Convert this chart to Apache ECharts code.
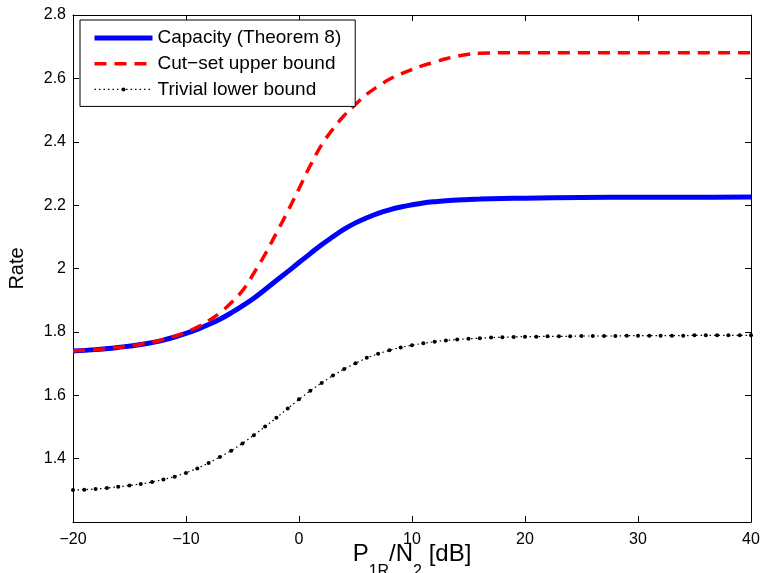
<!DOCTYPE html>
<html>
<head>
<meta charset="utf-8">
<script src="https://cdn.jsdelivr.net/npm/echarts@6/dist/echarts.min.js"></script>
<style>
html,body{margin:0;padding:0;background:#fff;}
#c{width:761px;height:573px;}
</style>
</head>
<body>
<div id="c"></div>
<script>
// x positions (dB) for capacity & cut-set curves
const xSmooth = [-20,-18,-16,-14,-12,-10,-9,-8,-7,-6,-5,-4,-3,-2,-1,0,1,2,3,4,5,6,7,8,9,10,11,12,13,14,15,16,18,20,25,30,35,40];
const capacity = [1.740,1.744,1.751,1.760,1.774,1.795,1.808,1.823,1.840,1.860,1.882,1.906,1.934,1.962,1.990,2.019,2.047,2.075,2.100,2.124,2.144,2.160,2.174,2.185,2.194,2.201,2.207,2.211,2.214,2.216,2.218,2.219,2.221,2.222,2.224,2.225,2.225,2.226];
const cutset = [1.740,1.744,1.751,1.761,1.776,1.799,1.815,1.835,1.860,1.892,1.930,1.985,2.045,2.112,2.180,2.252,2.325,2.390,2.440,2.483,2.518,2.550,2.575,2.597,2.614,2.628,2.641,2.651,2.662,2.670,2.676,2.679,2.681,2.681,2.681,2.681,2.681,2.681];
// trivial lower bound sampled every 1 dB from -20 to 40
const xTrivial = [-20,-19,-18,-17,-16,-15,-14,-13,-12,-11,-10,-9,-8,-7,-6,-5,-4,-3,-2,-1,0,1,2,3,4,5,6,7,8,9,10,11,12,13,14,15,16,17,18,19,20,21,22,23,24,25,26,27,28,29,30,31,32,33,34,35,36,37,38,39,40];
const trivial = [1.301,1.302,1.304,1.307,1.311,1.315,1.320,1.326,1.334,1.343,1.355,1.369,1.386,1.405,1.425,1.448,1.474,1.501,1.529,1.558,1.587,1.614,1.639,1.662,1.683,1.701,1.718,1.731,1.742,1.751,1.758,1.764,1.769,1.773,1.776,1.778,1.780,1.782,1.783,1.784,1.785,1.785,1.786,1.786,1.786,1.787,1.787,1.787,1.787,1.788,1.788,1.788,1.788,1.788,1.788,1.789,1.789,1.789,1.789,1.789,1.789];
const seriesNames = ['Capacity (Theorem 8)','Cut\u2212set upper bound','Trivial lower bound'];
const xTicks = {min:-20, max:40, interval:10};
const yTicks = {min:1.2, max:2.8, interval:0.2};

const zip = (xs, ys) => xs.map((x,i)=>[x, ys[i]]);
const FONT = 'Liberation Sans';
const chart = echarts.init(document.getElementById('c'), null, {renderer:'canvas'});
const minus = v => String(v).replace('-', '\u2212');
const axBase = {
  axisLine:{show:true, onZero:false, lineStyle:{color:'#000', width:1}},
  axisTick:{show:true, inside:true, length:6, lineStyle:{color:'#000'}},
  splitLine:{show:false}
};
const blueStyle = {color:'#0000ff', width:5};
const redStyle = {color:'#ff0000', width:3.5, type:[12,8]};
const blackStyle = {color:'#000', width:1.2, type:[1.5,3]};
chart.setOption({
  animation:false,
  backgroundColor:'#fff',
  grid:{left:73, right:10, top:15, bottom:51, containLabel:false, outerBoundsMode:'none'},
  legend:{
    orient:'vertical', left:80, top:20,
    padding:[8,14,7,12], itemGap:5.7, itemWidth:58, itemHeight:5,
    backgroundColor:'#fff', borderColor:'#000', borderWidth:1,
    textStyle:{fontFamily:FONT, fontSize:19, lineHeight:20, color:'#000'},
    data:[
      {name:seriesNames[0], itemStyle:{opacity:0}, lineStyle:blueStyle},
      {name:seriesNames[1], itemStyle:{opacity:0}, lineStyle:redStyle},
      {name:seriesNames[2], lineStyle:blackStyle}
    ]
  },
  xAxis:[
    Object.assign({}, axBase, {
      type:'value', position:'bottom', min:xTicks.min, max:xTicks.max, interval:xTicks.interval,
      axisLabel:{color:'#000', fontFamily:FONT, fontSize:16, margin:10, formatter:minus},
      name:'{m|P}{sub|1R}{m|/N}{sub|2}{m| [dB]}', nameLocation:'middle', nameGap:20, nameMoveOverlap:false,
      nameTextStyle:{fontFamily:FONT, fontSize:24, color:'#000', verticalAlign:'top',
        rich:{
          m:{fontFamily:FONT, fontSize:24, color:'#000', verticalAlign:'top'},
          sub:{fontFamily:FONT, fontSize:16, color:'#000', verticalAlign:'top', padding:[22,0,0,0]}
        }}
    }),
    Object.assign({}, axBase, {
      type:'value', position:'top', min:xTicks.min, max:xTicks.max, interval:xTicks.interval,
      axisLabel:{show:false}
    })
  ],
  yAxis:[
    Object.assign({}, axBase, {
      type:'value', position:'left', min:yTicks.min, max:yTicks.max, interval:yTicks.interval,
      axisLabel:{color:'#000', fontFamily:FONT, fontSize:16, margin:7, showMinLabel:false,
        formatter:v => String(Math.round(v*10)/10)},
      name:'Rate', nameLocation:'middle', nameGap:46, nameRotate:90, nameMoveOverlap:false,
      nameTextStyle:{fontFamily:FONT, fontSize:20, color:'#000'}
    }),
    Object.assign({}, axBase, {
      type:'value', position:'right', min:yTicks.min, max:yTicks.max, interval:yTicks.interval,
      axisLabel:{show:false}
    })
  ],
  series:[
    {name:seriesNames[0], type:'line', data:zip(xSmooth, capacity), smooth:0.4, showSymbol:false, symbol:'none',
     lineStyle:blueStyle, itemStyle:{color:'#0000ff'}},
    {name:seriesNames[1], type:'line', data:zip(xSmooth, cutset), smooth:0.4, showSymbol:false, symbol:'none',
     lineStyle:redStyle, itemStyle:{color:'#ff0000'}},
    {name:seriesNames[2], type:'line', data:zip(xTrivial, trivial), smooth:false, symbol:'circle', symbolSize:4, showSymbol:true,
     lineStyle:blackStyle, itemStyle:{color:'#000'}}
  ]
});
</script>
</body>
</html>
